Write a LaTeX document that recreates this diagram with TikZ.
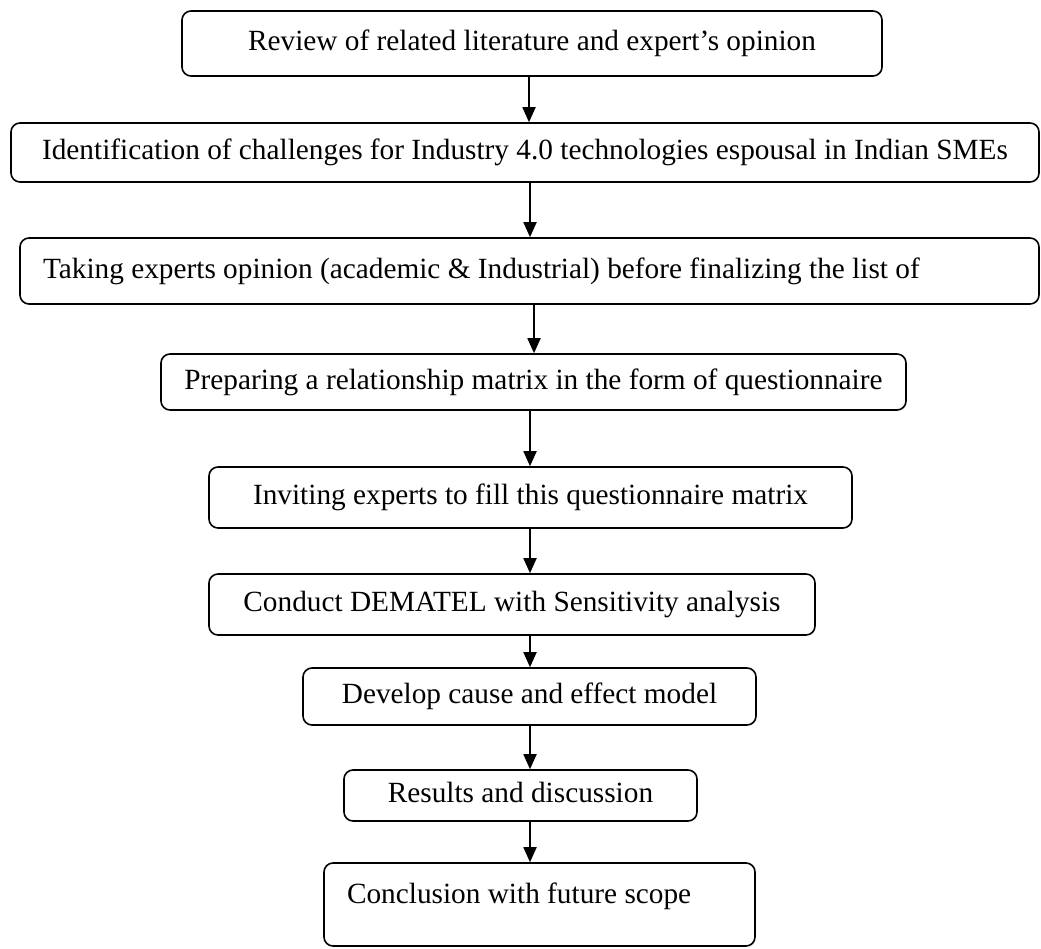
\documentclass[tikz,border=0pt]{standalone}
\usepackage{fontspec}
\setmainfont{Liberation Serif}
\usetikzlibrary{arrows.meta}
\begin{document}
\begin{tikzpicture}[x=1pt,y=-1pt,
  box/.style={draw, line width=1.6pt, rounded corners=9pt, inner sep=0pt,
    text height=22pt, text depth=7.3pt, font=\fontsize{29.3}{35}\selectfont},
  arr/.style={line width=1.8pt, -{Triangle[length=15pt,width=13pt]}}]
\useasboundingbox (0,0) rectangle (1041,949);
\node[box, minimum width=700pt, minimum height=65pt] (b1) at (532,43.5)
  {Review of related literature and expert’s opinion};
\node[box, minimum width=1028pt, minimum height=59pt] (b2) at (525,152.5)
  {Identification of challenges for Industry 4.0 technologies espousal in Indian SMEs};
\node[box, minimum width=1019pt, minimum height=66pt] (b3) at (529.5,271)
  {\makebox[973pt][l]{Taking experts opinion (academic \& Industrial) before finalizing the list of}};
\node[box, minimum width=745pt, minimum height=56pt] (b4) at (533.5,382)
  {Preparing a relationship matrix in the form of questionnaire};
\node[box, minimum width=643pt, minimum height=61pt] (b5) at (530.5,497.5)
  {Inviting experts to fill this questionnaire matrix};
\node[box, minimum width=606pt, minimum height=61pt] (b6) at (512,604.5)
  {Conduct DEMATEL with Sensitivity analysis};
\node[box, minimum width=453pt, minimum height=57pt] (b7) at (529.5,696.5)
  {Develop cause and effect model};
\node[box, minimum width=353pt, minimum height=51pt] (b8) at (520.5,795.5)
  {Results and discussion};
\node[box, minimum width=431pt, minimum height=83pt, text depth=25pt] (b9) at (539.5,904.5)
  {\makebox[385pt][l]{Conclusion with future scope}};
\draw[arr] (529,0 |- b1.south) -- (529,0 |- b2.north);
\draw[arr] (530,0 |- b2.south) -- (530,0 |- b3.north);
\draw[arr] (534,0 |- b3.south) -- (534,0 |- b4.north);
\draw[arr] (530,0 |- b4.south) -- (530,0 |- b5.north);
\draw[arr] (530,0 |- b5.south) -- (530,0 |- b6.north);
\draw[arr] (530,0 |- b6.south) -- (530,0 |- b7.north);
\draw[arr] (530,0 |- b7.south) -- (530,0 |- b8.north);
\draw[arr] (530,0 |- b8.south) -- (530,0 |- b9.north);
\end{tikzpicture}
\end{document}
